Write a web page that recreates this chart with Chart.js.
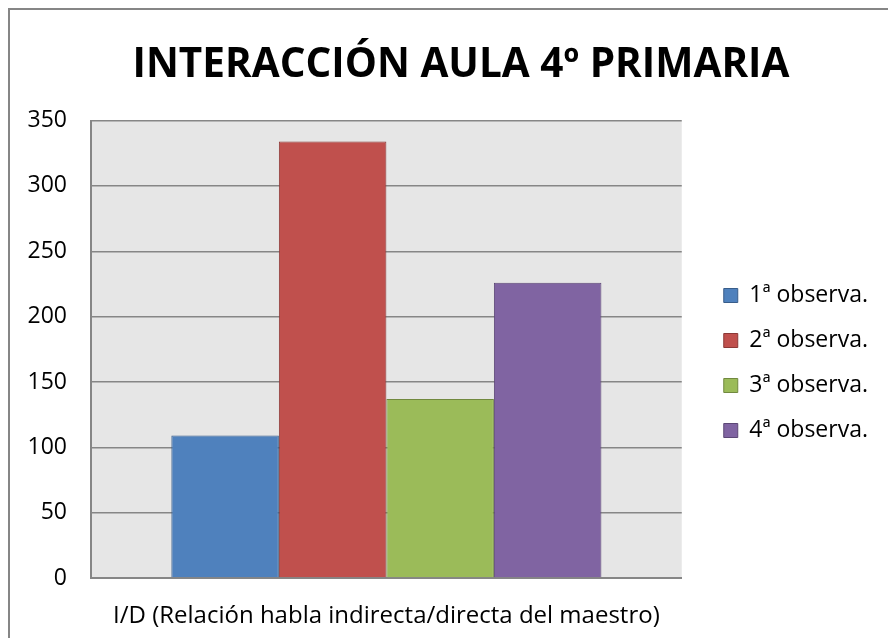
<!DOCTYPE html>
<html lang="es">
<head>
<meta charset="utf-8">
<title>Interacción aula 4º primaria</title>
<script src="https://cdn.jsdelivr.net/npm/chart.js@4.4.1/dist/chart.umd.min.js"></script>
<style>
    html, body { margin: 0; padding: 0; background: #ffffff; }
    #grafico { display: block; }
</style>
</head>
<body>
<canvas id="grafico" width="888" height="638"></canvas>
<script>
/* Dados */
const categorias = ['I/D (Relación habla indirecta/directa del maestro)'];
const series = ['1ª observa.', '2ª observa.', '3ª observa.', '4ª observa.'];
const valores = [109, 334, 137, 226];
const coresFundo = ['#4F81BD', '#C0504D', '#9BBB59', '#8064A2'];
const coresBorda = ['#385D8A', '#8C3836', '#71893F', '#5C4776'];

const fonte = 'Open Sans, Noto Sans, Arial, sans-serif';

/* Fundo branco, moldura e área do gráfico cinzenta */
const pluginFundo = {
    id: 'fundo',
    afterLayout: function (chart) {
        // o título original está um pouco deslocado para a direita
        if (chart.titleBlock) {
            chart.titleBlock.left += 56;
        }
        // a legenda fica afastada da área do gráfico e mais abaixo
        const legenda = chart.legend;
        if (legenda) {
            const altura = legenda.bottom - legenda.top;
            legenda.left += 20;
            legenda.right += 20;
            legenda.top = 262;
            legenda.bottom = legenda.top + altura;
        }
    },
    beforeDraw: function (chart) {
        const ctx = chart.ctx;
        const area = chart.chartArea;
        ctx.save();
        ctx.fillStyle = '#ffffff';
        ctx.fillRect(0, 0, chart.width, chart.height);
        ctx.strokeStyle = '#868686';
        ctx.lineWidth = 2;
        ctx.beginPath();
        ctx.moveTo(9, chart.height + 5);
        ctx.lineTo(9, 9);
        ctx.lineTo(chart.width + 5, 9);
        ctx.stroke();
        ctx.fillStyle = '#E6E6E6';
        ctx.fillRect(area.left, area.top, area.right - area.left, area.bottom - area.top);
        ctx.restore();
    }
};

const datasets = series.map(function (nome, i) {
    return {
        label: nome,
        data: [valores[i]],
        backgroundColor: coresFundo[i],
        borderColor: coresBorda[i],
        borderWidth: 1,
        categoryPercentage: 0.728,
        barPercentage: 1
    };
});

new Chart(document.getElementById('grafico'), {
    type: 'bar',
    data: {
        labels: categorias,
        datasets: datasets
    },
    plugins: [pluginFundo],
    options: {
        responsive: false,
        animation: false,
        layout: {
            padding: { left: 8, right: 30, top: 5, bottom: 0 }
        },
        plugins: {
            title: {
                display: true,
                text: 'INTERACCIÓN AULA 4º PRIMARIA',
                color: '#000000',
                font: { family: fonte, size: 40.5, weight: 'bold', lineHeight: 1.2 },
                padding: { top: 36, bottom: 31 }
            },
            legend: {
                position: 'right',
                align: 'start',
                labels: {
                    color: '#000000',
                    font: { family: fonte, size: 23 },
                    boxWidth: 14,
                    boxHeight: 14,
                    padding: 22
                }
            },
            tooltip: { enabled: false }
        },
        scales: {
            x: {
                grid: { display: false },
                border: { color: '#868686', width: 2 },
                ticks: {
                    color: '#000000',
                    font: { family: fonte, size: 24 },
                    padding: 16
                },
                afterFit: function (scale) {
                    scale.height = 60;
                }
            },
            y: {
                min: 0,
                max: 350,
                grid: { color: '#868686', lineWidth: 1.5, drawTicks: false },
                border: { color: '#868686', width: 2 },
                ticks: {
                    stepSize: 50,
                    color: '#000000',
                    font: { family: fonte, size: 23 },
                    padding: 24
                },
                afterFit: function (scale) {
                    scale.width = 83;
                }
            }
        }
    }
});
</script>
</body>
</html>
